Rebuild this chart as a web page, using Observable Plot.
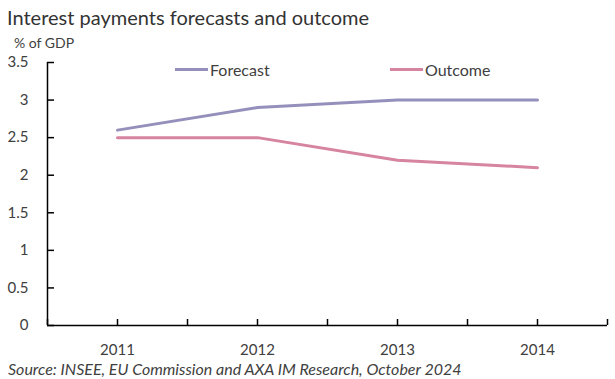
<!DOCTYPE html>
<html>
<head>
<meta charset="utf-8">
<script src="https://cdn.jsdelivr.net/npm/d3@7"></script>
<script src="https://cdn.jsdelivr.net/npm/@observablehq/plot@0.6"></script>
<style>
  html, body { margin: 0; padding: 0; background: #fff; }
  #wrap { position: relative; width: 615px; height: 379px; font-family: Lato, "Open Sans", sans-serif; color: #404040; }
  .abs { position: absolute; white-space: nowrap; }
  #title { left: 7px; top: 5px; font-size: 20px; color: #333; }
  #unit { left: 14px; top: 34px; font-size: 14px; }
  #caption { left: 8px; top: 361px; font-size: 16px; line-height: 16px; font-style: italic; }
  .leg { font-size: 16px; top: 60px; display: flex; align-items: center; }
  .leg span.sw { display: inline-block; width: 33px; height: 3px; margin-right: 2px; }
</style>
</head>
<body>
<div id="wrap">
  <div id="chart"></div>
  <div class="abs" id="title">Interest payments forecasts and outcome</div>
  <div class="abs" id="unit">% of GDP</div>
  <div class="abs" id="caption">Source: INSEE, EU Commission and AXA IM Research, October 2024</div>
  <div class="abs leg" style="left:175px"><span class="sw" style="background:#9490BB"></span>Forecast</div>
  <div class="abs leg" style="left:390px"><span class="sw" style="background:#D6849F"></span>Outcome</div>
</div>
<script>
const years = [2011, 2012, 2013, 2014];
const forecast = [2.6, 2.9, 3.0, 3.0];
const outcome = [2.5, 2.5, 2.2, 2.1];
const seriesNames = ["Forecast", "Outcome"];
const seriesColors = ["#9490BB", "#D6849F"];
const yTicks = [0, 0.5, 1, 1.5, 2, 2.5, 3, 3.5];
const xTicks = [2010.5, 2011, 2011.5, 2012, 2012.5, 2013, 2013.5, 2014, 2014.5];

const data = [];
years.forEach((y, i) => {
  data.push({year: y, value: forecast[i], series: seriesNames[0]});
  data.push({year: y, value: outcome[i], series: seriesNames[1]});
});

const chart = Plot.plot({
  width: 615,
  height: 379,
  marginTop: 62,
  marginBottom: 54,
  marginLeft: 47,
  marginRight: 8,
  style: {fontFamily: "Lato, 'Open Sans', sans-serif", fontSize: "15px", color: "#404040", background: "transparent"},
  x: {domain: [2010.5, 2014.5], ticks: years, tickFormat: d => String(d), tickSize: 0, tickPadding: 19, label: null},
  y: {domain: [0, 3.5], ticks: yTicks, tickFormat: d => String(d), tickSize: 0, tickPadding: 19, label: null},
  color: {domain: seriesNames, range: seriesColors},
  marks: [
    Plot.ruleX(xTicks, {x: d => d, y1: 0, y2: 0.08, stroke: "#000", strokeWidth: 1.5}),
    Plot.ruleY(yTicks, {y: d => d, x1: 2010.5, x2: 2010.55, stroke: "#000", strokeWidth: 1.5}),
    Plot.ruleX([2010.5], {stroke: "#000", strokeWidth: 1.5}),
    Plot.ruleY([0], {stroke: "#000", strokeWidth: 1.5}),
    Plot.line(data, {x: "year", y: "value", z: "series", stroke: "series", strokeWidth: 3, strokeLinejoin: "round"})
  ]
});
document.getElementById("chart").appendChild(chart);
</script>
</body>
</html>
